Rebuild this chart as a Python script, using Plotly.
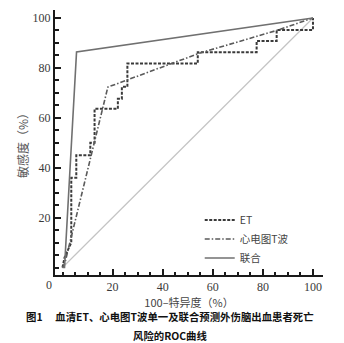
import plotly.graph_objects as go

# ---- data ----
et_x = [0, 0.8, 3.5, 3.5, 5.5, 5.5, 11.1, 11.1, 12.8, 12.8, 22.1, 22.1, 23.7, 23.7, 25.9, 25.9, 54, 54, 77.5, 77.5, 85.5, 85.5, 100, 100]
et_y = [0, 4, 10, 36, 36, 45, 45, 50, 50, 63.6, 63.6, 67.6, 67.6, 72.4, 72.4, 81.8, 81.8, 86.3, 86.3, 90.8, 90.8, 95.2, 95.2, 100]

ecg_x = [0, 1, 18.1, 55, 85.5, 100]
ecg_y = [0, 2, 72.3, 86, 95, 100]

comb_x = [0, 0.8, 5.6, 100]
comb_y = [0, 0, 86.4, 100]

ref_x = [0, 100]
ref_y = [0, 100]

tick_vals = [20, 40, 60, 80, 100]
tick_text = ["20", "40", "60", "80", "100"]

names = ["ET", "心电图T波", "联合"]

serif = "'Liberation Serif', 'DejaVu Serif', serif"
cjk = "'Noto Sans CJK SC', sans-serif"

fig = go.Figure()
fig.add_trace(go.Scatter(x=ref_x, y=ref_y, mode="lines", showlegend=False,
                         line=dict(color="#c4c4c4", width=1.2), hoverinfo="skip"))
fig.add_trace(go.Scatter(x=et_x, y=et_y, mode="lines", name=names[0],
                         line=dict(color="#3a3a3a", width=2, dash="3px,1.5px")))
fig.add_trace(go.Scatter(x=ecg_x, y=ecg_y, mode="lines", name=names[1],
                         line=dict(color="#5a5a5a", width=1.6, dash="5px,2px,1.5px,2px")))
fig.add_trace(go.Scatter(x=comb_x, y=comb_y, mode="lines", name=names[2],
                         line=dict(color="#707070", width=1.6)))

axis_common = dict(
    showline=True, linecolor="#1a1a1a", linewidth=2, mirror=False,
    showgrid=False, zeroline=False,
    ticks="inside", ticklen=6, tickwidth=2, tickcolor="#1a1a1a",
    tickfont=dict(family=serif, size=12, color="#3a3a3a"),
    minor=dict(ticks="inside", ticklen=3.5, tickwidth=1.5, tickcolor="#1a1a1a", dtick=5, tick0=0, showgrid=False),
    fixedrange=True,
)

fig.update_xaxes(range=[-3, 104], tickvals=tick_vals, ticktext=tick_text,
                 title=dict(text="100–特异度（%）", font=dict(family=cjk, size=11, color="#444"), standoff=1),
                 **axis_common)
fig.update_yaxes(range=[-3, 103.2], tickvals=tick_vals, ticktext=tick_text,
                 title=dict(text="敏感度（%）", font=dict(family=cjk, size=12, color="#555"), standoff=1),
                 **axis_common)

fig.add_annotation(x=0, y=0, xref="paper", yref="paper", text="0", showarrow=False,
                   xanchor="right", yanchor="top", xshift=-1, yshift=-1,
                   font=dict(family=serif, size=12, color="#3a3a3a"))

fig.add_annotation(x=0.5, y=0, xref="paper", yref="paper", xanchor="center", yanchor="middle",
                   text="<b>图1　 血清ET、心电图T波单一及联合预测外伤脑出血患者死亡</b>",
                   showarrow=False, yshift=-41.5, xshift=-19,
                   font=dict(family=cjk, size=10.4, color="#111"))
fig.add_annotation(x=0.5, y=0, xref="paper", yref="paper", xanchor="center", yanchor="middle",
                   text="<b>风险的ROC曲线</b>",
                   showarrow=False, yshift=-60, xshift=-19,
                   font=dict(family=cjk, size=10.4, color="#111"))

fig.update_layout(
    width=344, height=343,
    margin=dict(l=55, r=21, t=10, b=68),
    paper_bgcolor="white", plot_bgcolor="white",
    showlegend=True,
    legend=dict(x=0.54, y=0.262, xanchor="left", yanchor="top",
                bgcolor="rgba(0,0,0,0)", borderwidth=0,
                font=dict(family=cjk, size=10.5, color="#444"),
                itemwidth=30, tracegroupgap=0),
)

fig.write_html("out.html")
